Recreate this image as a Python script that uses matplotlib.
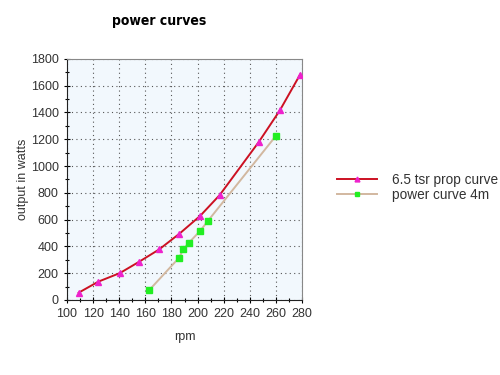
import matplotlib
matplotlib.use("Agg")
import matplotlib.pyplot as plt
from matplotlib.ticker import MultipleLocator
from matplotlib import font_manager

plt.rcParams['font.family'] = ['Liberation Sans', 'DejaVu Sans']

prop_rpm = [109, 124, 140.5, 155, 170.5, 186, 202, 217, 247, 263, 278.5]
prop_watts = [55, 137, 201, 284, 377, 494, 628, 784, 1181, 1415, 1682]
power_rpm = [163, 186, 189, 193.5, 202, 208, 260]
power_watts = [74, 317, 379, 429, 516, 591, 1225]

fig = plt.figure(figsize=(5, 3.75), dpi=100)
ax = fig.add_axes([0.134, 0.2, 0.470, 0.643])
ax.set_facecolor('#f2f8fd')

ax.plot(prop_rpm, prop_watts, color='#cc1122', lw=1.4, marker='^', ms=5,
        mfc='#ee22cc', mec='#ee22cc', label='6.5 tsr prop curve', zorder=3)
ax.plot(power_rpm, power_watts, color='#d2b8a0', lw=1.4, marker='s', ms=5,
        mfc='#22ee22', mec='#22ee22', label='power curve 4m', zorder=3)

ax.set_xlim(100, 280)
ax.set_ylim(0, 1800)
ax.xaxis.set_major_locator(MultipleLocator(20))
ax.xaxis.set_minor_locator(MultipleLocator(10))
ax.yaxis.set_major_locator(MultipleLocator(200))
ax.yaxis.set_minor_locator(MultipleLocator(100))
ax.grid(True, which='major', linestyle=(0, (1, 3)), color='#555555', lw=0.8)
ax.tick_params(which='major', direction='inout', length=5, width=0.8,
               labelsize=9, labelcolor='#333333')
ax.tick_params(which='minor', direction='inout', length=3, width=0.8)
for s in ['left', 'bottom']:
    ax.spines[s].set_color('#222222')
for s in ['top', 'right']:
    ax.spines[s].set_color('#888888')

ax.set_xlabel('rpm', fontsize=9, color='#333333', labelpad=8)
ax.set_ylabel('output in watts', fontsize=9, color='#333333', labelpad=1)

cond = [f for f in font_manager.fontManager.ttflist
        if 'Condensed' in f.fname and 'Bold' in f.fname and 'Oblique' not in f.fname]
if cond:
    fp = font_manager.FontProperties(fname=cond[0].fname, size=10)
else:
    fp = font_manager.FontProperties(family='DejaVu Sans', weight='bold', size=9)
fig.text(0.318, 0.945, 'power curves', fontproperties=fp,
         ha='center', va='center')

fig.legend(loc='upper left', bbox_to_anchor=(0.65, 0.571), frameon=False,
           fontsize=9.8, handlelength=2.9, handletextpad=1.1, labelspacing=0.05,
           markerscale=0.7, labelcolor='#333333')

fig.savefig('out.png', dpi=100)
